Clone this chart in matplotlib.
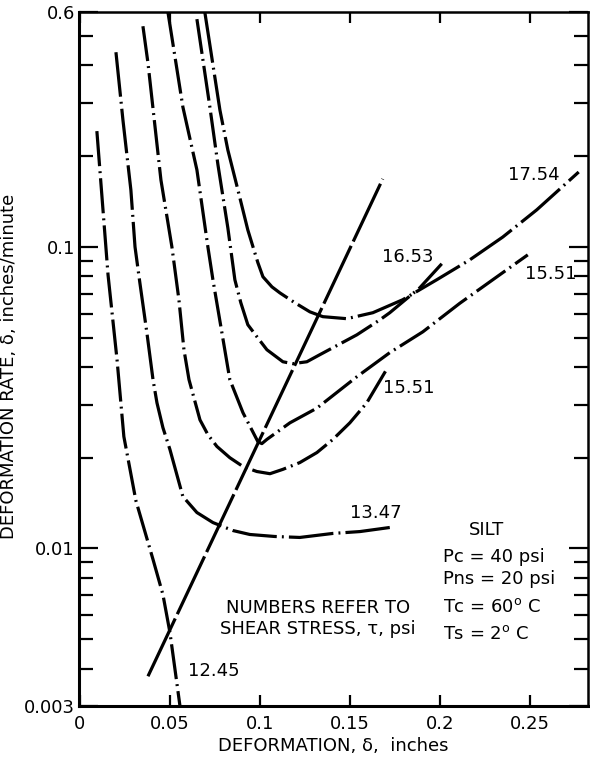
#Deformation rate vs deformation, silt creep curves

#-----Required Packages-----#
import matplotlib
matplotlib.use('Agg')
import matplotlib.pyplot as plt
from matplotlib.ticker import FixedLocator, LogLocator, NullFormatter, FixedFormatter

plt.rcParams['font.family'] = ['DejaVu Sans']

#-----Curve data (deformation in inches, rate in in/min)-----#
x_1245 = [0.0094, 0.0144, 0.0156, 0.0206, 0.0244, 0.0311, 0.0406, 0.0461, 0.0500, 0.0528, 0.0556]
y_1245 = [0.242, 0.100, 0.0808, 0.0423, 0.0235, 0.0144, 0.0092, 0.00704, 0.00527, 0.00398, 0.0030]

x_1347 = [0.0200, 0.0239, 0.0283, 0.0306, 0.0333, 0.0372, 0.0406, 0.0428, 0.0461, 0.0500,
          0.0572, 0.0650, 0.0739, 0.0850, 0.0944, 0.1083, 0.1222, 0.1406, 0.1556, 0.1722]
y_1347 = [0.442, 0.263, 0.1544, 0.100, 0.0760, 0.0519, 0.0363, 0.0304, 0.02517, 0.0213,
          0.01487, 0.01316, 0.01219, 0.01147, 0.01113, 0.01096, 0.01088, 0.01122, 0.01138, 0.01174]

x_1551a = [0.0350, 0.0378, 0.0450, 0.0511, 0.0550, 0.0578, 0.0606, 0.0667, 0.0711, 0.0761,
           0.0833, 0.0906, 0.0983, 0.1056, 0.1128, 0.1222, 0.1317, 0.1406, 0.1500, 0.1594, 0.1706]
y_1551a = [0.539, 0.407, 0.1667, 0.100, 0.0668, 0.0456, 0.0363, 0.0267, 0.02385, 0.0218,
           0.0200, 0.0187, 0.0180, 0.0177, 0.0183, 0.01927, 0.0208, 0.0230, 0.0261, 0.0304, 0.0394]

x_1551b = [0.0489, 0.0572, 0.0650, 0.0711, 0.0739, 0.0789, 0.0833, 0.0906, 0.0989, 0.1011,
           0.1039, 0.1167, 0.1317, 0.1539, 0.1722, 0.1906, 0.2111, 0.2333, 0.2489]
y_1551b = [0.600, 0.291, 0.180, 0.100, 0.0778, 0.0519, 0.0363, 0.0282, 0.0226, 0.02227,
           0.0230, 0.0261, 0.0292, 0.0371, 0.0446, 0.0523, 0.0650, 0.0808, 0.0941]

x_1653 = [0.0650, 0.0722, 0.0767, 0.0822, 0.0861, 0.0894, 0.0933, 0.0983, 0.1039, 0.1128,
          0.1183, 0.1261, 0.1333, 0.1539, 0.1667, 0.1722, 0.1889, 0.2011]
y_1653 = [0.569, 0.291, 0.187, 0.1156, 0.0778, 0.0653, 0.0552, 0.0504, 0.0456, 0.0416,
          0.0410, 0.0416, 0.0439, 0.0511, 0.0573, 0.0605, 0.0732, 0.0879]

x_1754 = [0.0694, 0.0778, 0.0822, 0.0878, 0.0933, 0.0967, 0.0989, 0.1017, 0.1067, 0.1111,
          0.1194, 0.1278, 0.1350, 0.1483, 0.1628, 0.1794, 0.1983, 0.2167, 0.2350, 0.2539, 0.2772]
y_1754 = [0.600, 0.284, 0.2095, 0.1544, 0.1138, 0.0977, 0.0886, 0.0796, 0.0737, 0.0704,
          0.0653, 0.0609, 0.0587, 0.0578, 0.0605, 0.0668, 0.0778, 0.0906, 0.1078, 0.1327, 0.1771]

# straight line through the minima
x_min_line = [0.0378, 0.1683]
y_min_line = [0.00377, 0.168]

#-----Axis ticks-----#
x_ticks = [0, 0.05, 0.1, 0.15, 0.2, 0.25]
x_tick_labels = ['0', '0.05', '0.1', '0.15', '0.2', '0.25']
y_ticks = [0.003, 0.01, 0.1, 0.6]
y_tick_labels = ['0.003', '0.01', '0.1', '0.6']

#-----Plot-----#
fig = plt.figure(figsize=(5.9, 7.61), dpi=100)
ax = fig.add_axes([0.134, 0.072, 0.863, 0.912])

dashdot = (11, 1.6, 0.6, 1.6)
lw = 2.3
ax.plot(x_1245, y_1245, color='k', lw=lw, dashes=dashdot)
ax.plot(x_1347, y_1347, color='k', lw=lw, dashes=(14, 1.6, 0.6, 1.6))
ax.plot(x_1551a, y_1551a, color='k', lw=lw, dashes=dashdot)
ax.plot(x_1551b, y_1551b, color='k', lw=lw, dashes=dashdot)
ax.plot(x_1653, y_1653, color='k', lw=lw, dashes=dashdot)
ax.plot(x_1754, y_1754, color='k', lw=lw, dashes=(16, 1.6, 0.6, 1.6))
ax.plot(x_min_line, y_min_line, color='k', lw=lw, dashes=(20, 1.5))

#-----Curve labels-----#
lab = dict(fontsize=13, va='center', ha='left')
ax.text(0.060, 0.00392, '12.45', **lab)
ax.text(0.150, 0.01316, '13.47', **lab)
ax.text(0.1683, 0.0341, '15.51', **lab)
ax.text(0.2472, 0.0814, '15.51', **lab)
ax.text(0.1678, 0.0926, '16.53', **lab)
ax.text(0.2378, 0.1732, '17.54', **lab)

ax.text(0.1322, 0.00585, 'NUMBERS REFER TO\nSHEAR STRESS, \u03c4, psi',
        fontsize=13, ha='center', va='center', linespacing=1.25)

ax.text(0.2261, 0.01156, 'SILT', fontsize=13, ha='center', va='center')
info = ['Pc = 40 psi', 'Pns = 20 psi', 'Tc = 60$^{\\mathrm{o}}$ C', 'Ts = 2$^{\\mathrm{o}}$ C']
info_y = [0.0094, 0.0079, 0.00638, 0.00519]
for s, yy in zip(info, info_y):
    ax.text(0.2017, yy, s, fontsize=13, ha='left', va='center')

#-----Axes formatting-----#
ax.set_yscale('log')
ax.set_xlim(-0.0005, 0.2825)
ax.set_ylim(0.003, 0.6)

ax.xaxis.set_major_locator(FixedLocator(x_ticks))
ax.xaxis.set_major_formatter(FixedFormatter(x_tick_labels))
ax.yaxis.set_major_locator(FixedLocator(y_ticks))
ax.yaxis.set_major_formatter(FixedFormatter(y_tick_labels))
ax.yaxis.set_minor_locator(LogLocator(base=10, subs=range(2, 10)))
ax.yaxis.set_minor_formatter(NullFormatter())

ax.tick_params(axis='both', which='major', direction='in', labelsize=13,
               width=1.6, top=True, right=True)
ax.tick_params(axis='y', which='major', length=14, pad=3)
ax.tick_params(axis='y', which='minor', direction='in', length=10, width=1.6, right=True)
ax.tick_params(axis='x', which='major', length=8, pad=6)
for s in ax.spines.values():
    s.set_linewidth(1.8)
ax.spines['left'].set_linewidth(2.2)
ax.spines['bottom'].set_linewidth(2.2)

ax.set_xlabel('DEFORMATION, \u03b4,  inches', fontsize=13, labelpad=3)
ax.set_ylabel('DEFORMATION RATE, \u03b4, inches/minute', fontsize=13)
ax.yaxis.set_label_coords(-0.12, 0.49)

fig.savefig('out.png', dpi=100)
